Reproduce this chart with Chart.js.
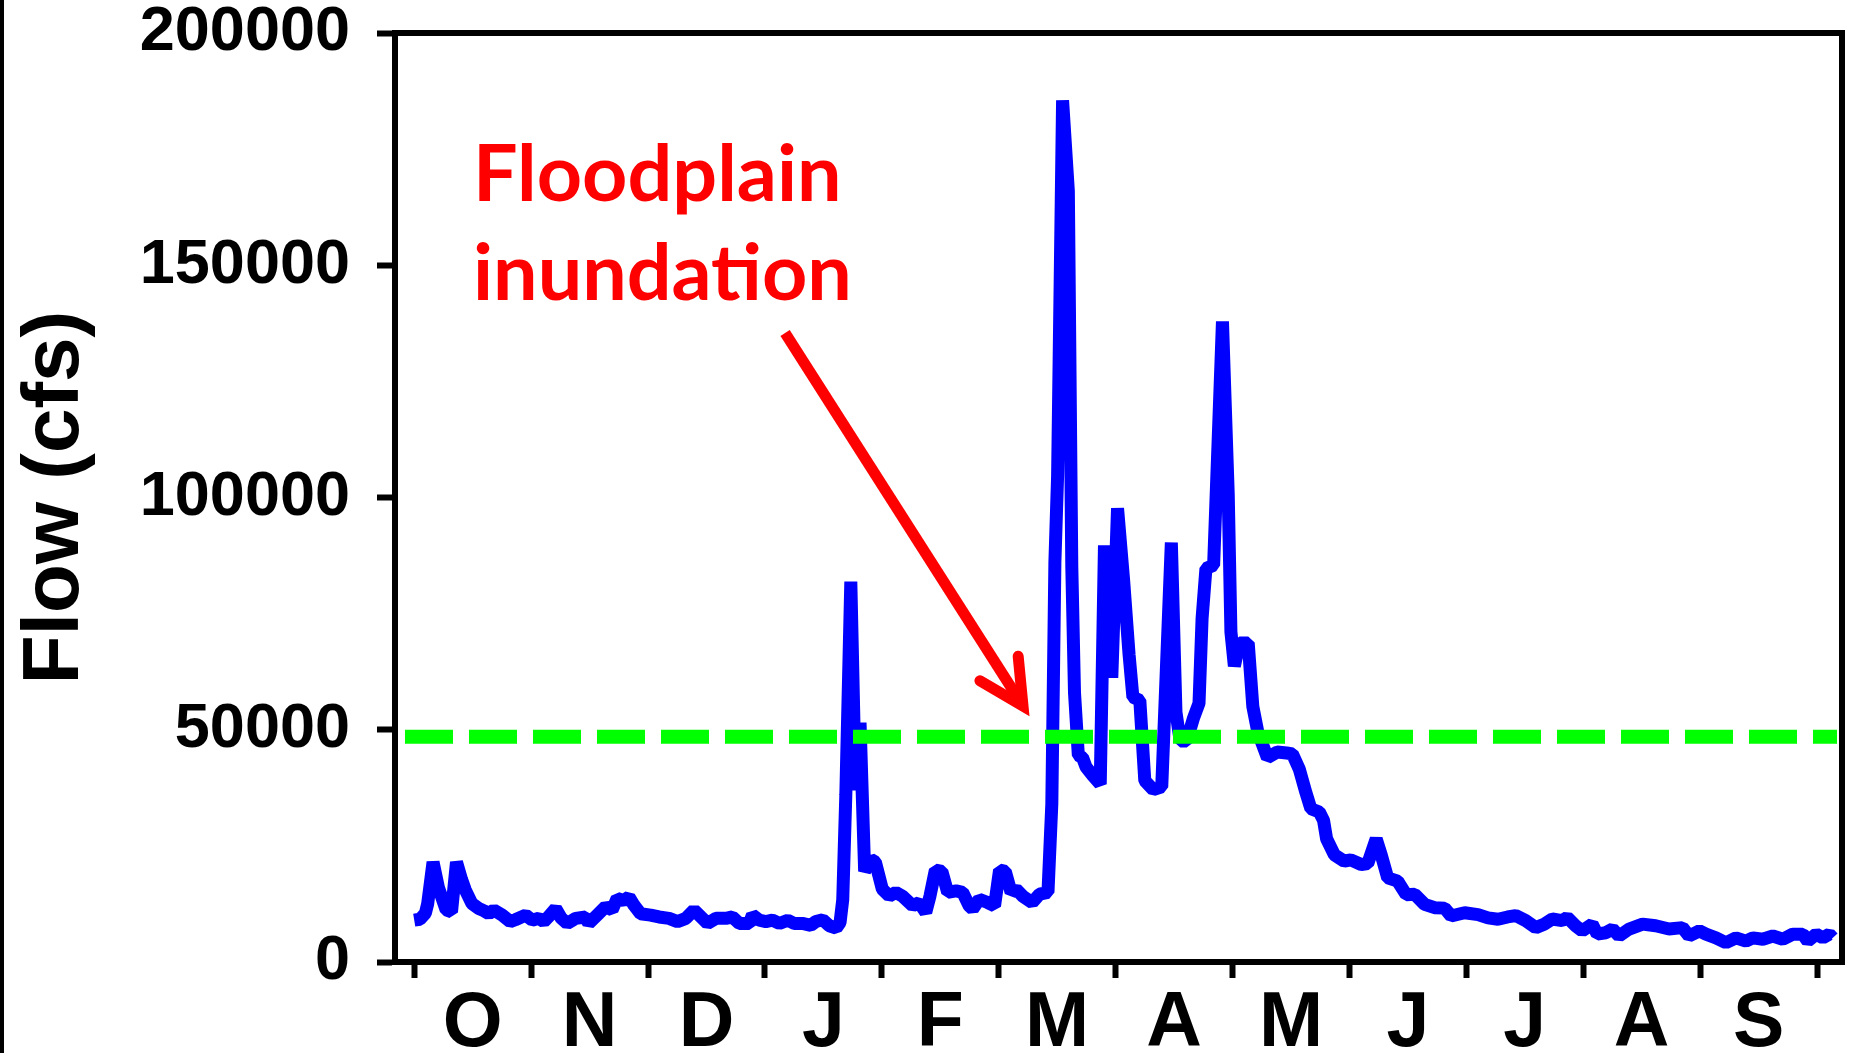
<!DOCTYPE html>
<html>
<head>
<meta charset="utf-8">
<title>Flow (cfs)</title>
<script src="https://cdn.jsdelivr.net/npm/chart.js@4.4.1/dist/chart.umd.min.js"></script>
<style>
  html, body { margin: 0; padding: 0; background: #fff; overflow: hidden; }
  #wrap { position: relative; width: 1853px; height: 1053px; }
</style>
</head>
<body>
<div id="wrap"><canvas id="flow" width="1853" height="1053"></canvas></div>
<script>
// water year, Oct -> Sep; x is day of the year, ticks every 365/12 days
const monthLabels = ["O", "N", "D", "J", "F", "M", "A", "M", "J", "J", "A", "S"];
const yTicks = [0, 50000, 100000, 150000, 200000];

const flowDays = [
  0, 1.5, 2.9, 3.5, 4.9, 6.3, 8.3, 9.7, 11.0, 12.3, 13.3, 15.0, 16.8, 18.2, 19.4,
  20.7, 22.9, 25.0, 26.3, 29.0, 30.7, 32.4, 33.7, 35.0, 36.8, 38.2, 39.8, 42.0,
  44.6, 45.4, 47.6, 49.8, 51.5, 52.8, 54.5, 55.9, 57.2, 58.9, 61.5, 63.7, 66.3,
  68.5, 70.7, 72.8, 74.6, 76.3, 78.5, 81.1, 82.8, 84.6, 87.2, 88.0, 89.8, 91.5,
  93.2, 95.0, 97.2, 98.9, 101.0, 103.2, 104.5, 106.3, 108.0, 109.8, 110.8, 111.5,
  112.3, 113.6, 114.8, 116.0, 117.2, 118.8, 120.0, 121.8, 123.6, 125.3, 127.0,
  129.7, 131.4, 133.1, 134.2, 135.6, 137.3, 138.8, 141.0, 142.7, 144.4, 145.3,
  147.0, 149.2, 151.0, 152.3, 153.8, 155.3, 156.6, 158.3, 160.8, 162.7, 164.9,
  165.9, 166.7, 167.4, 168.7, 170.2, 171.1, 171.8, 172.8, 173.9, 174.8, 176.5,
  178.5, 179.6, 181.5, 183.0, 184.6, 186.0, 187.0, 188.8, 190.1, 192.3, 194.5,
  197.0, 198.2, 199.3, 201.0, 202.8, 204.2, 205.0, 206.0, 208.0, 210.3, 211.8,
  212.5, 213.4, 214.7, 217.0, 218.2, 219.5, 222.0, 224.5, 227.0, 228.5, 230.3,
  232.0, 233.3, 235.5, 236.6, 237.4, 239.4, 242.0, 243.7, 246.4, 248.1, 250.3,
  251.6, 253.3, 255.9, 258.1, 260.3, 262.9, 265.5, 268.1, 269.8, 273.3, 276.8,
  279.4, 282.0, 284.5, 286.6, 289.2, 291.8, 294.0, 296.1, 298.7, 300.0, 302.2,
  303.9, 306.5, 307.8, 310.0, 311.8, 313.5, 316.1, 319.6, 323.0, 326.5, 330.0,
  331.7, 334.4, 336.1, 338.7, 341.3, 343.9, 346.5, 348.3, 350.9, 353.5, 356.1,
  358.7, 361.3, 362.6, 364.8, 366.5, 368.2, 369.1
];

const flowCfs = [
  9000, 9200, 10500, 12500, 21500, 16000, 11200, 10800, 21500, 17800, 15500, 12600, 11500, 11000, 10400,
  11200, 10100, 8700, 9100, 10100, 9000, 9400, 8700, 9800, 11500, 9500, 8300, 9400,
  9700, 8300, 10100, 11900, 11200, 13700, 13200, 14000, 12200, 10400, 10100, 9700, 9400,
  8700, 9400, 11200, 9700, 8300, 9400, 9400, 9700, 8300, 8300, 10100, 9000, 8700,
  9000, 8300, 9000, 8300, 8300, 7900, 8700, 9100, 7800, 7300, 8500, 13400,
  36000, 81900, 37000, 51500, 19500, 22100, 21500, 15700, 14200, 15000, 14200,
  12100, 12800, 10700, 14200, 19800, 19500, 15000, 15300, 15000, 12100, 11400,
  13500, 12800, 12100, 19800, 19500, 15000, 15700, 14200, 12800, 14600, 15000,
  34000, 86000, 104500, 185500, 166000, 85000, 58000, 44500, 44000, 42000, 40200,
  38300, 89700, 61200, 97700, 82000, 66200, 57000, 56300, 39000, 37100, 37700,
  90300, 53800, 47600, 47600, 52600, 55700, 74000, 84700, 85400, 137900, 100800,
  71100, 63700, 68700, 68700, 55000, 49500, 44000, 45200, 45000, 44800, 41500,
  36500, 33000, 32300, 30500, 26500, 23100, 21700, 22000, 21000, 21200, 26500,
  23100, 18100, 17400, 14500, 14600, 12400, 11700, 11600, 9900, 10600, 10200,
  9500, 9200, 9700, 10000, 8900, 7400, 8150, 9250, 8900, 9600, 7800,
  6700, 8150, 6000, 6300, 7100, 5600, 7100, 8150, 7800, 7100, 7400,
  5600, 6700, 6000, 5200, 4150, 5200, 4500, 5200, 4900, 5600, 4900,
  6000, 6000, 4500, 6000, 5200, 6000, 5200
];

// floodplain inundation threshold
const floodDays = [-2.4, 370.2];
const floodCfs = [48500, 48500];

const noteLines = ["Floodplain", "inundation"];

const axisFont = "'Liberation Sans', Arial, sans-serif";
const plotLeft = 395, plotRight = 1842, plotTop = 33, plotBottom = 962;
const xMin = -5, xMax = 371.5;
const halfMonthPx = (365 / 24) * (plotRight - plotLeft) / (xMax - xMin);

const frame = {
  id: "frame",
  afterDraw(chart) {
    const { ctx, chartArea: a, scales: { x, y } } = chart;
    ctx.save();
    // thin black edge on the left of the picture
    ctx.fillStyle = "#000";
    ctx.fillRect(0, 0, 4, chart.height);

    // top and right sides of the box
    ctx.strokeStyle = "#000";
    ctx.lineWidth = 6;
    ctx.lineCap = "square";
    ctx.beginPath();
    ctx.moveTo(a.left, a.top);
    ctx.lineTo(a.right, a.top);
    ctx.lineTo(a.right, a.bottom);
    ctx.stroke();

    // annotation
    ctx.fillStyle = "#ff0000";
    ctx.font = "bold 79px Lato, 'Open Sans', sans-serif";
    ctx.textAlign = "left";
    ctx.textBaseline = "alphabetic";
    ctx.fillText(noteLines[0], x.getPixelForValue(15.3), y.getPixelForValue(163900));
    ctx.fillText(noteLines[1], x.getPixelForValue(15.3), y.getPixelForValue(142500));

    const sx = x.getPixelForValue(96.5), sy = y.getPixelForValue(135400);
    const tx = x.getPixelForValue(158.4), ty = y.getPixelForValue(55100);
    const ang = Math.atan2(ty - sy, tx - sx);
    ctx.strokeStyle = "#ff0000";
    ctx.lineWidth = 11;
    ctx.lineCap = "butt";
    ctx.beginPath();
    ctx.moveTo(sx, sy);
    ctx.lineTo(tx - 8 * Math.cos(ang), ty - 8 * Math.sin(ang));
    ctx.stroke();

    const head = 50, spread = 27 * Math.PI / 180;
    ctx.lineCap = "round";
    ctx.lineJoin = "miter";
    ctx.beginPath();
    ctx.moveTo(tx - head * Math.cos(ang - spread), ty - head * Math.sin(ang - spread));
    ctx.lineTo(tx, ty);
    ctx.lineTo(tx - head * Math.cos(ang + spread), ty - head * Math.sin(ang + spread));
    ctx.stroke();
    ctx.restore();
  }
};

new Chart(document.getElementById("flow"), {
  type: "line",
  data: {
    datasets: [
      {
        label: "Floodplain inundation",
        data: floodDays.map((d, i) => ({ x: d, y: floodCfs[i] })),
        borderColor: "#00ff00",
        borderWidth: 14,
        borderDash: [48, 16],
        borderCapStyle: "butt",
        pointRadius: 0,
        order: 0
      },
      {
        label: "Flow",
        data: flowDays.map((d, i) => ({ x: d, y: flowCfs[i] })),
        borderColor: "#0000ff",
        borderWidth: 13,
        borderJoinStyle: "bevel",
        pointRadius: 0,
        tension: 0,
        order: 1
      }
    ]
  },
  options: {
    responsive: false,
    animation: false,
    events: [],
    layout: { padding: { top: plotTop, right: 1853 - plotRight, left: 0, bottom: 0 } },
    plugins: { legend: { display: false }, tooltip: { enabled: false } },
    scales: {
      x: {
        type: "linear",
        min: xMin,
        max: xMax,
        afterBuildTicks: s => {
          s.ticks = monthLabels.concat("").map((_, i) => ({ value: i * 365 / 12 }));
        },
        ticks: {
          autoSkip: false,
          maxRotation: 0,
          labelOffset: halfMonthPx,
          padding: 8,
          color: "#000",
          font: { family: axisFont, size: 77, weight: "bold", lineHeight: 1 },
          callback: (v, i) => monthLabels[i] ?? ""
        },
        grid: { drawOnChartArea: false, drawTicks: true, tickLength: 16, tickWidth: 6, tickColor: "#000" },
        border: { display: true, color: "#000", width: 6 },
        afterFit: s => {
          s.height = 1053 - plotBottom;
          s.paddingLeft = 0;
          s.paddingRight = 0;
        }
      },
      y: {
        min: 0,
        max: 200000,
        afterBuildTicks: s => { s.ticks = yTicks.map(v => ({ value: v })); },
        ticks: {
          padding: 27,
          color: "#000",
          font: { family: axisFont, size: 63, weight: "bold", lineHeight: 1 },
          callback: v => String(v)
        },
        grid: { drawOnChartArea: false, drawTicks: true, tickLength: 18, tickWidth: 6, tickColor: "#000" },
        border: { display: true, color: "#000", width: 6 },
        title: {
          display: true,
          text: "Flow (cfs)",
          color: "#000",
          font: { family: axisFont, size: 80, weight: "bold", lineHeight: 1.2 },
          padding: { top: 8, bottom: 0 }
        },
        afterFit: s => {
          s.width = plotLeft;
          s.paddingTop = 0;
          s.paddingBottom = 0;
        }
      }
    }
  },
  plugins: [frame]
});
</script>
</body>
</html>
